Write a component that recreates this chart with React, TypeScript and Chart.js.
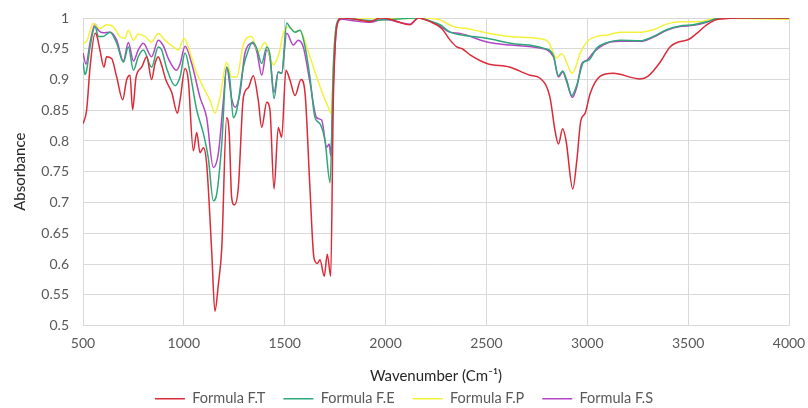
import { useEffect, useRef } from "react";
import { Chart, registerables } from "chart.js";
Chart.register(...registerables);

const seriesNames = ["Formula F.T", "Formula F.E", "Formula F.P", "Formula F.S"];
const seriesColors = ["#d92b38", "#2ea87a", "#f2f23a", "#b246c4"];
const xTickValues = [500, 1000, 1500, 2000, 2500, 3000, 3500, 4000];

const ftWave = [500,518,535,560,568,584,604,617,642,667,697,716,733,746,763,791,816,840,857,873,890,911,940,968,981,1006,1022,1047,1064,1080,1097,1113,1138,1154,1171,1188,1212,1225,1237,1250,1270,1295,1320,1344,1369,1386,1411,1427,1447,1468,1485,1506,1526,1551,1581,1601,1625,1645,1662,1675,1696,1711,1728,1741,1758,1783,1850,1923,1973,2022,2121,2162,2220,2278,2320,2353,2380,2419,2502,2617,2716,2766,2815,2840,2857,2878,2895,2928,2948,2968,2989,3014,3063,3128,3262,3300,3361,3410,3452,3502,3543,3592,3650,3800,4000];
const ftAbs = [0.828,0.85,0.92,0.975,0.972,0.948,0.92,0.937,0.934,0.904,0.867,0.899,0.907,0.851,0.904,0.92,0.937,0.9,0.926,0.937,0.923,0.899,0.879,0.845,0.866,0.918,0.899,0.784,0.814,0.781,0.789,0.763,0.621,0.523,0.567,0.626,0.838,0.812,0.708,0.696,0.724,0.871,0.887,0.906,0.866,0.822,0.863,0.85,0.722,0.822,0.806,0.915,0.899,0.874,0.9,0.877,0.724,0.61,0.601,0.607,0.58,0.616,0.58,0.866,0.985,1.0,0.998,0.994,1.0,0.998,0.989,1.0,0.994,0.983,0.964,0.953,0.95,0.94,0.926,0.92,0.907,0.902,0.871,0.817,0.795,0.82,0.8,0.722,0.768,0.833,0.845,0.877,0.905,0.91,0.901,0.905,0.928,0.953,0.961,0.965,0.975,0.989,0.998,1.0,1.0];

const feWave = [500,510,518,535,560,576,600,634,667,700,725,750,774,799,840,873,890,915,956,981,1006,1031,1064,1097,1121,1146,1163,1188,1212,1228,1245,1262,1295,1320,1341,1362,1386,1411,1427,1447,1468,1485,1510,1526,1551,1576,1601,1625,1650,1675,1700,1725,1741,1758,1783,1850,1923,2000,2162,2220,2270,2320,2386,2502,2617,2782,2832,2857,2878,2898,2923,2948,2981,3006,3047,3097,3162,3262,3328,3394,3460,3526,3592,3658,3800,4000];
const feAbs = [0.928,0.908,0.915,0.953,0.986,0.97,0.97,0.977,0.959,0.928,0.953,0.915,0.937,0.948,0.92,0.953,0.948,0.918,0.89,0.904,0.943,0.91,0.85,0.812,0.773,0.703,0.714,0.796,0.92,0.9,0.838,0.85,0.92,0.948,0.961,0.95,0.926,0.953,0.94,0.869,0.912,0.91,0.992,0.985,0.977,0.98,0.953,0.904,0.838,0.828,0.8,0.732,0.92,0.991,1.0,0.998,0.996,0.997,1.0,0.995,0.989,0.977,0.972,0.967,0.959,0.951,0.939,0.906,0.914,0.899,0.874,0.891,0.928,0.931,0.951,0.96,0.964,0.963,0.97,0.981,0.987,0.989,0.994,1.0,1.0,1.0];

const fpWave = [500,518,551,584,617,650,683,708,725,750,774,807,840,873,906,948,973,1001,1031,1064,1097,1130,1154,1179,1212,1237,1262,1295,1336,1369,1402,1444,1473,1493,1518,1551,1576,1609,1642,1667,1691,1716,1730,1745,1758,1783,1923,2100,2200,2270,2336,2402,2485,2617,2749,2807,2848,2873,2926,2964,2997,3047,3097,3162,3262,3328,3394,3460,3559,3641,3800,4000];
const fpAbs = [0.959,0.962,0.991,0.983,0.989,0.986,0.97,0.967,0.98,0.964,0.974,0.97,0.961,0.975,0.964,0.953,0.948,0.967,0.943,0.91,0.887,0.866,0.845,0.871,0.928,0.904,0.904,0.957,0.97,0.945,0.96,0.924,0.944,0.975,0.986,0.977,0.98,0.953,0.92,0.896,0.874,0.855,0.845,0.948,0.99,1.0,1.0,0.999,1.0,0.997,0.986,0.983,0.977,0.97,0.967,0.961,0.935,0.942,0.91,0.942,0.961,0.97,0.972,0.977,0.977,0.981,0.99,0.994,0.994,1.0,0.999,0.998];

const fsWave = [500,515,535,560,576,600,634,667,700,725,750,774,799,840,873,898,923,964,981,1006,1039,1080,1113,1146,1171,1196,1212,1237,1254,1278,1303,1341,1362,1386,1411,1427,1447,1468,1485,1510,1543,1567,1592,1625,1658,1683,1708,1721,1728,1741,1758,1783,1850,1923,1989,2121,2162,2253,2320,2369,2502,2617,2766,2832,2857,2878,2898,2926,2948,2973,2997,3030,3097,3162,3262,3328,3394,3460,3526,3592,3658,3800,4000];
const fsAbs = [0.943,0.925,0.96,0.99,0.98,0.976,0.977,0.964,0.93,0.96,0.93,0.948,0.959,0.937,0.964,0.955,0.934,0.915,0.925,0.954,0.926,0.871,0.838,0.757,0.78,0.866,0.92,0.869,0.855,0.877,0.943,0.959,0.945,0.907,0.948,0.935,0.879,0.912,0.91,0.975,0.956,0.964,0.953,0.896,0.838,0.834,0.79,0.795,0.776,0.893,0.988,0.998,0.995,0.993,0.998,0.99,1.0,0.99,0.977,0.975,0.961,0.956,0.951,0.937,0.904,0.912,0.896,0.871,0.888,0.926,0.931,0.944,0.959,0.962,0.962,0.969,0.98,0.986,0.988,0.993,1.0,1.0,1.0];

const waves = [ftWave, feWave, fpWave, fsWave];
const absorb = [ftAbs, feAbs, fpAbs, fsAbs];

const FONT = "Lato, 'Open Sans', sans-serif";
const GRID = "#d9d9d9";

export default function App() {
  const ref = useRef<HTMLCanvasElement>(null);
  useEffect(() => {
    document.body.style.margin = "0";
    const datasets = seriesNames.map((name, i) => ({
      label: name,
      data: waves[i].map((w, k) => ({ x: w, y: absorb[i][k] })),
      borderColor: seriesColors[i],
      backgroundColor: seriesColors[i],
      borderWidth: 1.5,
      pointRadius: 0,
      fill: false,
      cubicInterpolationMode: "monotone" as const,
    }));
    const chart = new Chart(ref.current!, {
      type: "line",
      data: { datasets },
      options: {
        responsive: false,
        animation: false,
        layout: { padding: { top: 18, right: 10, left: 10, bottom: -8 } },
        plugins: {
          tooltip: { enabled: false },
          legend: {
            position: "bottom",
            labels: {
              usePointStyle: true,
              pointStyle: "line",
              pointStyleWidth: 30,
              padding: 18,
              color: "#595959",
              font: { family: FONT, size: 14.5 },
            },
          },
        },
        scales: {
          x: {
            type: "linear",
            min: 500,
            max: 4000,
            afterBuildTicks: (s: any) => {
              s.ticks = xTickValues.map((v) => ({ value: v }));
            },
            ticks: {
              color: "#595959",
              font: { family: FONT, size: 14 },
              padding: 10,
              maxRotation: 0,
              callback: (v: any) => String(v),
            },
            grid: { color: GRID, drawTicks: false, lineWidth: 1 },
            border: { color: GRID },
            title: {
              display: true,
              text: "Wavenumber (Cm⁻¹)",
              color: "#262626",
              font: { family: FONT, size: 15 },
              padding: { top: 0, bottom: -12 },
            },
            afterFit: (s: any) => {
              s.height = 48;
              s.paddingLeft = 0;
              s.paddingRight = 19;
            },
          },
          y: {
            min: 0.5,
            max: 1,
            ticks: {
              stepSize: 0.05,
              color: "#595959",
              font: { family: FONT, size: 14 },
              padding: 14,
              callback: (v: any) => String(Math.round(Number(v) * 100) / 100),
            },
            grid: { color: GRID, drawTicks: false, lineWidth: 1 },
            border: { color: GRID },
            title: {
              display: true,
              text: "Absorbance",
              color: "#262626",
              font: { family: FONT, size: 15 },
              padding: { top: 1, bottom: 0 },
            },
            afterFit: (s: any) => {
              s.width = 73;
              s.paddingTop = 0;
              s.paddingBottom = 0;
            },
          },
        },
      },
    });
    return () => chart.destroy();
  }, []);
  return (
    <div style={{ width: 808, height: 408, background: "#fff" }}>
      <canvas ref={ref} width={808} height={408} style={{ display: "block" }} />
    </div>
  );
}
